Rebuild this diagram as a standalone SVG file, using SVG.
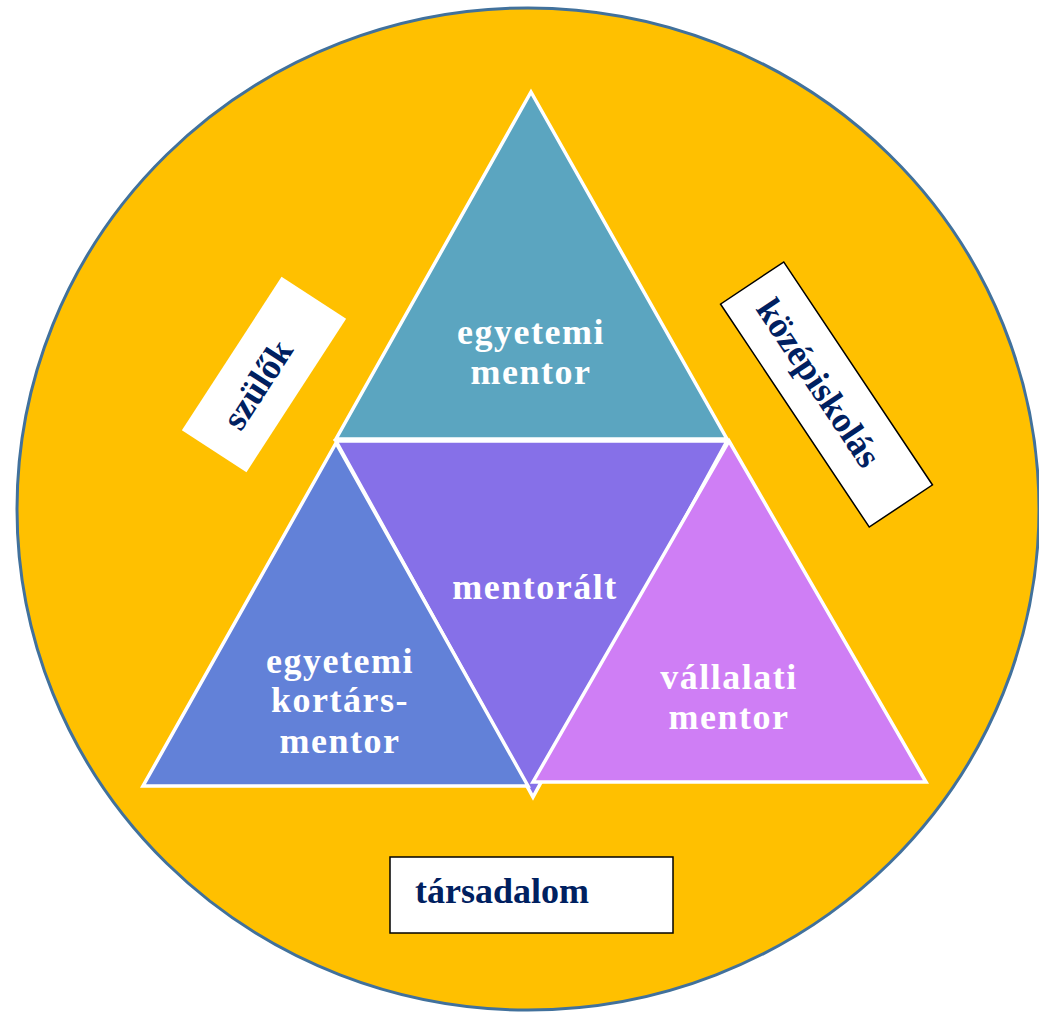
<svg xmlns="http://www.w3.org/2000/svg" width="1039" height="1012" viewBox="0 0 1039 1012">
<style>
.tri{stroke:#FFFFFF;stroke-width:3.5;stroke-linejoin:miter}
.wt{font-family:"Liberation Serif","Times New Roman",serif;font-weight:bold;font-size:36px;fill:#FFFFFF;text-anchor:middle;letter-spacing:1.5px}
.lb{font-family:"Liberation Serif","Times New Roman",serif;font-weight:bold;font-size:36px;fill:#002060}
.box{fill:#FFFFFF}
</style>
<rect width="1039" height="1012" fill="#FFFFFF"/>
<g id="background">
<ellipse cx="528" cy="509" rx="511" ry="501" fill="#FFC000" stroke="#41719C" stroke-width="3"/>
</g>
<g id="node-egyetemi-mentor">
<polygon class="tri" points="531,92 727,439 336,439" fill="#5BA5C0"/>
<text class="wt" x="531" y="344">egyetemi</text>
<text class="wt" x="531" y="384">mentor</text>
</g>
<g id="node-mentoralt">
<polygon class="tri" points="336,441 727,441 533,797" fill="#8670E8"/>
<text class="wt" x="535" y="599">mentorált</text>
</g>
<g id="node-egyetemi-kortarsmentor">
<polygon class="tri" points="336,443 528,786 143,786" fill="#6281D8"/>
<text class="wt" x="340" y="673">egyetemi</text>
<text class="wt" x="340" y="712">kortárs-</text>
<text class="wt" x="340" y="753">mentor</text>
</g>
<g id="node-vallalati-mentor">
<polygon class="tri" points="729,441 926,782 533,782" fill="#CF7EF5"/>
<text class="wt" x="729" y="689">vállalati</text>
<text class="wt" x="729" y="729">mentor</text>
</g>
<g id="node-szulok">
<g transform="translate(264,374.5) rotate(-57)">
<rect class="box" x="-91.5" y="-38.5" width="183" height="77"/>
<text class="lb" x="-12" y="12" text-anchor="middle">szülők</text>
</g>
</g>
<g id="node-kozepiskolas">
<g transform="translate(826.5,394.5) rotate(56.3)">
<rect class="box" x="-134" y="-38" width="268" height="76" stroke="#000000" stroke-width="1.5"/>
<text class="lb" x="-14" y="12" text-anchor="middle">középiskolás</text>
</g>
</g>
<g id="node-tarsadalom">
<rect class="box" x="390" y="857" width="283" height="76" stroke="#000000" stroke-width="1.5"/>
<text class="lb" x="415" y="903">társadalom</text>
</g>
<g id="connectors"></g>
</svg>
